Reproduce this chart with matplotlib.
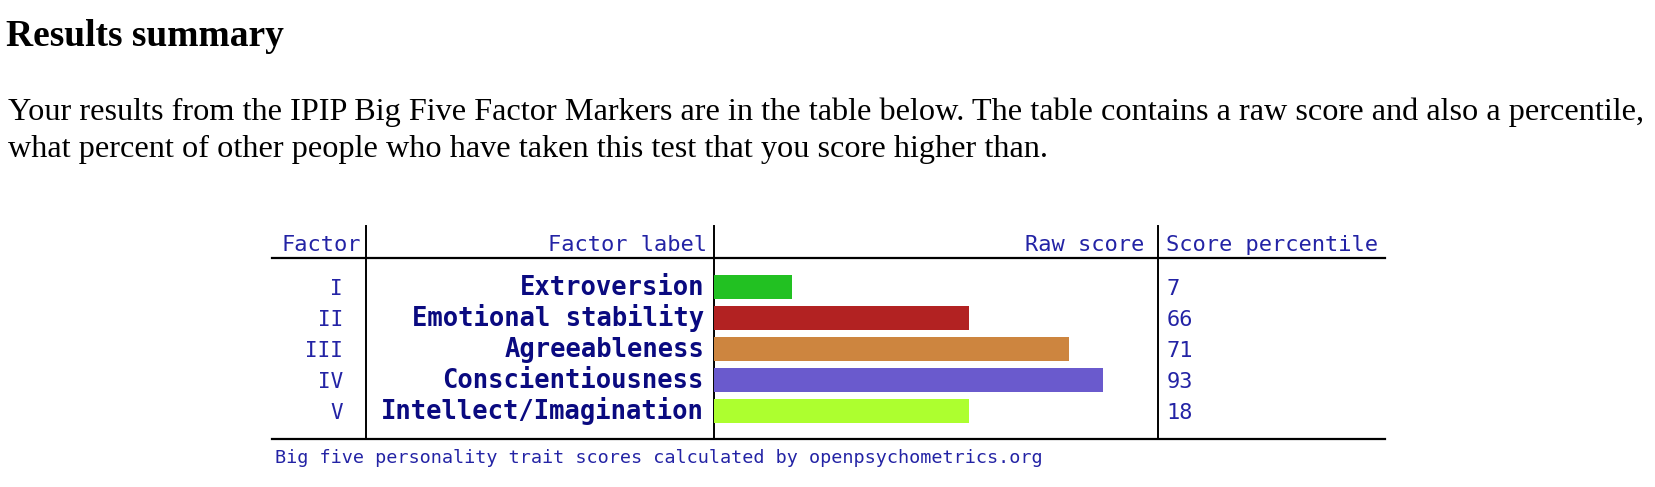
import matplotlib.pyplot as plt

# データ
factors = ["I", "II", "III", "IV", "V"]
labels = ["Extroversion", "Emotional stability", "Agreeableness",
          "Conscientiousness", "Intellect/Imagination"]
raw_scores = [7, 23, 32, 35, 23]
percentiles = [7, 66, 71, 93, 18]
bar_colors = ["#22c122", "#b22222", "#cd853f", "#6a5acd", "#adff2f"]
headers = ["Factor", "Factor label", "Raw score", "Score percentile"]

title = "Results summary"
para = ["Your results from the IPIP Big Five Factor Markers are in the table below. "
        "The table contains a raw score and also a percentile,",
        "what percent of other people who have taken this test that you score higher than."]
footer = "Big five personality trait scores calculated by openpsychometrics.org"

W, H = 1655, 487
fig = plt.figure(figsize=(W / 100, H / 100), dpi=100)

# ピクセル座標のオーバーレイ
ax = fig.add_axes([0, 0, 1, 1])
ax.set_xlim(0, W)
ax.set_ylim(H, 0)
ax.axis("off")

serif = "Liberation Serif"
mono = "DejaVu Sans Mono"
blue = "#2323a5"
navy = "#0a0a80"

ax.text(6, 46, title, family=serif, weight="bold", fontsize=27, va="baseline", ha="left")
ax.text(8, 120, para[0], family=serif, fontsize=23.2, va="baseline", ha="left")
ax.text(8, 157, para[1], family=serif, fontsize=23.2, va="baseline", ha="left")

# 表の枠線
left, right = 272, 1385
col1, col2, col3 = 366, 713.5, 1157.5
top, head_line, bottom = 226, 258, 439
ax.plot([left, right], [head_line, head_line], color="black", lw=1.6)
ax.plot([left, right], [bottom, bottom], color="black", lw=1.6)
for xc in [col1, col2, col3]:
    ax.plot([xc, xc], [top, bottom], color="black", lw=1.4)

# ヘッダー
hy = 251
ax.text(col1 - 5, hy, headers[0], family=mono, fontsize=15.8, color=blue, ha="right", va="baseline")
ax.text(col2 - 7, hy, headers[1], family=mono, fontsize=15.8, color=blue, ha="right", va="baseline")
ax.text(col3 - 13, hy, headers[2], family=mono, fontsize=15.8, color=blue, ha="right", va="baseline")
ax.text(col3 + 9, hy, headers[3], family=mono, fontsize=15.8, color=blue, ha="left", va="baseline")

# 行
row0, step = 287, 31
for i in range(len(labels)):
    y = row0 + step * i + 8
    ax.text(343, y, factors[i], family=mono, fontsize=15, color=blue, ha="right", va="baseline")
    ax.text(704, y, labels[i], family=mono, fontsize=18.4, weight="bold", color=navy,
            ha="right", va="baseline")
    ax.text(col3 + 9, y, str(percentiles[i]), family=mono, fontsize=15.8, color=blue,
            ha="left", va="baseline")

ax.text(275, 463, footer, family=mono, fontsize=13.3, color=blue, ha="left", va="baseline")

# 棒グラフ
bx0, bx1 = 714, 1158
by0, by1 = row0 - step / 2, row0 + step * 4.5
bx = fig.add_axes([bx0 / W, 1 - by1 / H, (bx1 - bx0) / W, (by1 - by0) / H])
bx.barh(range(len(raw_scores)), raw_scores, height=0.77, color=bar_colors)
bx.set_xlim(0, 40)
bx.set_ylim(len(raw_scores) - 0.5, -0.5)
bx.axis("off")

fig.savefig("out.png", dpi=100)
